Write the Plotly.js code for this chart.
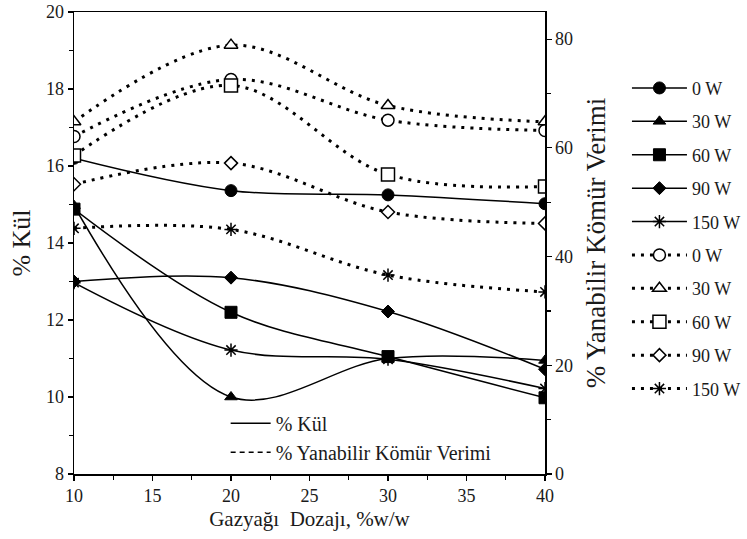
<!DOCTYPE html>
<html>
<head>
<meta charset="utf-8">
<script src="https://cdn.plot.ly/plotly-3.0.1.min.js"></script>
<style>html,body{margin:0;padding:0;background:#fff;}#chart{width:747px;height:539px;}</style>
</head>
<body>
<div id="chart"></div>
<script>
// Data
const dosage = [10, 20, 30, 40];
const powerLabels = ["0 W", "30 W", "60 W", "90 W", "150 W"];
// % Kül (left axis)
const ash0 = [16.2, 15.36, 15.25, 15.02];
const ash30 = [14.97, 10.0, 11.0, 10.95];
const ash60 = [14.88, 12.2, 11.05, 9.98];
const ash90 = [13.0, 13.1, 12.22, 10.72];
const ash150 = [12.97, 11.22, 10.98, 10.22];
// % Yanabilir Kömür Verimi (right axis)
const yield0 = [62.1, 72.6, 65.1, 63.2];
const yield30 = [64.8, 78.9, 67.8, 64.8];
const yield60 = [58.6, 71.5, 55.1, 52.9];
const yield90 = [53.3, 57.2, 48.2, 46.1];
const yield150 = [45.2, 45.0, 36.6, 33.5];
const legendTypes = ["% Kül", "% Yanabilir Kömür Verimi"];

const ashSeries = [ash0, ash30, ash60, ash90, ash150];
const yieldSeries = [yield0, yield30, yield60, yield90, yield150];
const filledSymbols = ["circle", "triangle-up", "square", "diamond", "asterisk-open"];
const filledSizes = [12, 11, 12, 10, 11];
const openSymbols = ["circle", "triangle-up", "square", "diamond", "asterisk-open"];
const openSizes = [12, 12, 13, 10, 11];

const traces = [];
ashSeries.forEach((ys, i) => {
  const star = filledSymbols[i] === "asterisk-open";
  traces.push({
    x: dosage, y: ys, name: powerLabels[i], yaxis: "y", type: "scatter",
    mode: "lines+markers", legendgroup: "a" + i,
    line: {color: "#000", width: 1.5, shape: "spline", smoothing: 1},
    marker: {symbol: filledSymbols[i], size: filledSizes[i], color: "#000",
             line: {color: "#000", width: star ? 1.5 : 1}}
  });
});
yieldSeries.forEach((ys, i) => {
  const star = openSymbols[i] === "asterisk-open";
  traces.push({
    x: dosage, y: ys, name: powerLabels[i], yaxis: "y2", type: "scatter",
    mode: "lines+markers", legendgroup: "b" + i,
    line: {color: "#000", width: 3, dash: "3px,6px", shape: "spline", smoothing: 1},
    marker: {symbol: openSymbols[i], size: openSizes[i], color: star ? "#000" : "#fff",
             line: {color: "#000", width: 1.5}}
  });
});
// legend-only entries for the line-type key
traces.push({x: [null], y: [null], name: legendTypes[0], legend: "legend2", mode: "lines",
             line: {color: "#000", width: 1.5}, showlegend: true});
traces.push({x: [null], y: [null], name: legendTypes[1], legend: "legend2", mode: "lines",
             line: {color: "#000", width: 1.5, dash: "5px,4px"}, showlegend: true});

const font = {family: "Liberation Serif, Times New Roman, serif", size: 18, color: "#1a1a1a"};
const layout = {
  width: 747, height: 539,
  margin: {l: 74, r: 202, t: 12, b: 65, autoexpand: false},
  paper_bgcolor: "#fff", plot_bgcolor: "#fff",
  font: font,
  showlegend: true,
  xaxis: {
    range: [10, 40], dtick: 5, tick0: 10,
    showline: true, linecolor: "#000", linewidth: 1.5, mirror: true,
    ticks: "outside", ticklen: 5, tickcolor: "#000", tickwidth: 1.2,
    minor: {dtick: 2.5, ticks: "outside", ticklen: 4, tickcolor: "#000"},
    showgrid: false, zeroline: false, automargin: false,
    title: {text: "Gazyağı  Dozajı, %w/w", font: {size: 21}, standoff: 6}
  },
  yaxis: {
    range: [8, 20], dtick: 2, tick0: 8,
    showline: true, linecolor: "#000", linewidth: 1.5,
    ticks: "outside", ticklen: 5, tickcolor: "#000", tickwidth: 1.2,
    minor: {dtick: 1, ticks: "outside", ticklen: 4, tickcolor: "#000"},
    showgrid: false, zeroline: false, automargin: false,
    title: {text: "% Kül", font: {size: 26}, standoff: 8}
  },
  yaxis2: {
    overlaying: "y", side: "right",
    range: [0, 85], dtick: 20, tick0: 0,
    showline: true, linecolor: "#000", linewidth: 1.5,
    ticks: "outside", ticklen: 5, tickcolor: "#000", tickwidth: 1.2,
    minor: {dtick: 10, ticks: "outside", ticklen: 4, tickcolor: "#000"},
    showgrid: false, zeroline: false, automargin: false,
    title: {text: "% Yanabilir Kömür Verimi", font: {size: 27}, standoff: 14}
  },
  legend: {
    x: 1.174, xanchor: "left", y: 0.875, yanchor: "top",
    itemwidth: 55, tracegroupgap: 7, font: {size: 18},
    bgcolor: "rgba(0,0,0,0)"
  },
  legend2: {
    x: 0.322, xanchor: "left", y: 0.152, yanchor: "top",
    itemwidth: 40, font: {size: 20}, bgcolor: "rgba(0,0,0,0)"
  }
};
Plotly.newPlot("chart", traces, layout, {displayModeBar: false, staticPlot: true});
</script>
</body>
</html>
